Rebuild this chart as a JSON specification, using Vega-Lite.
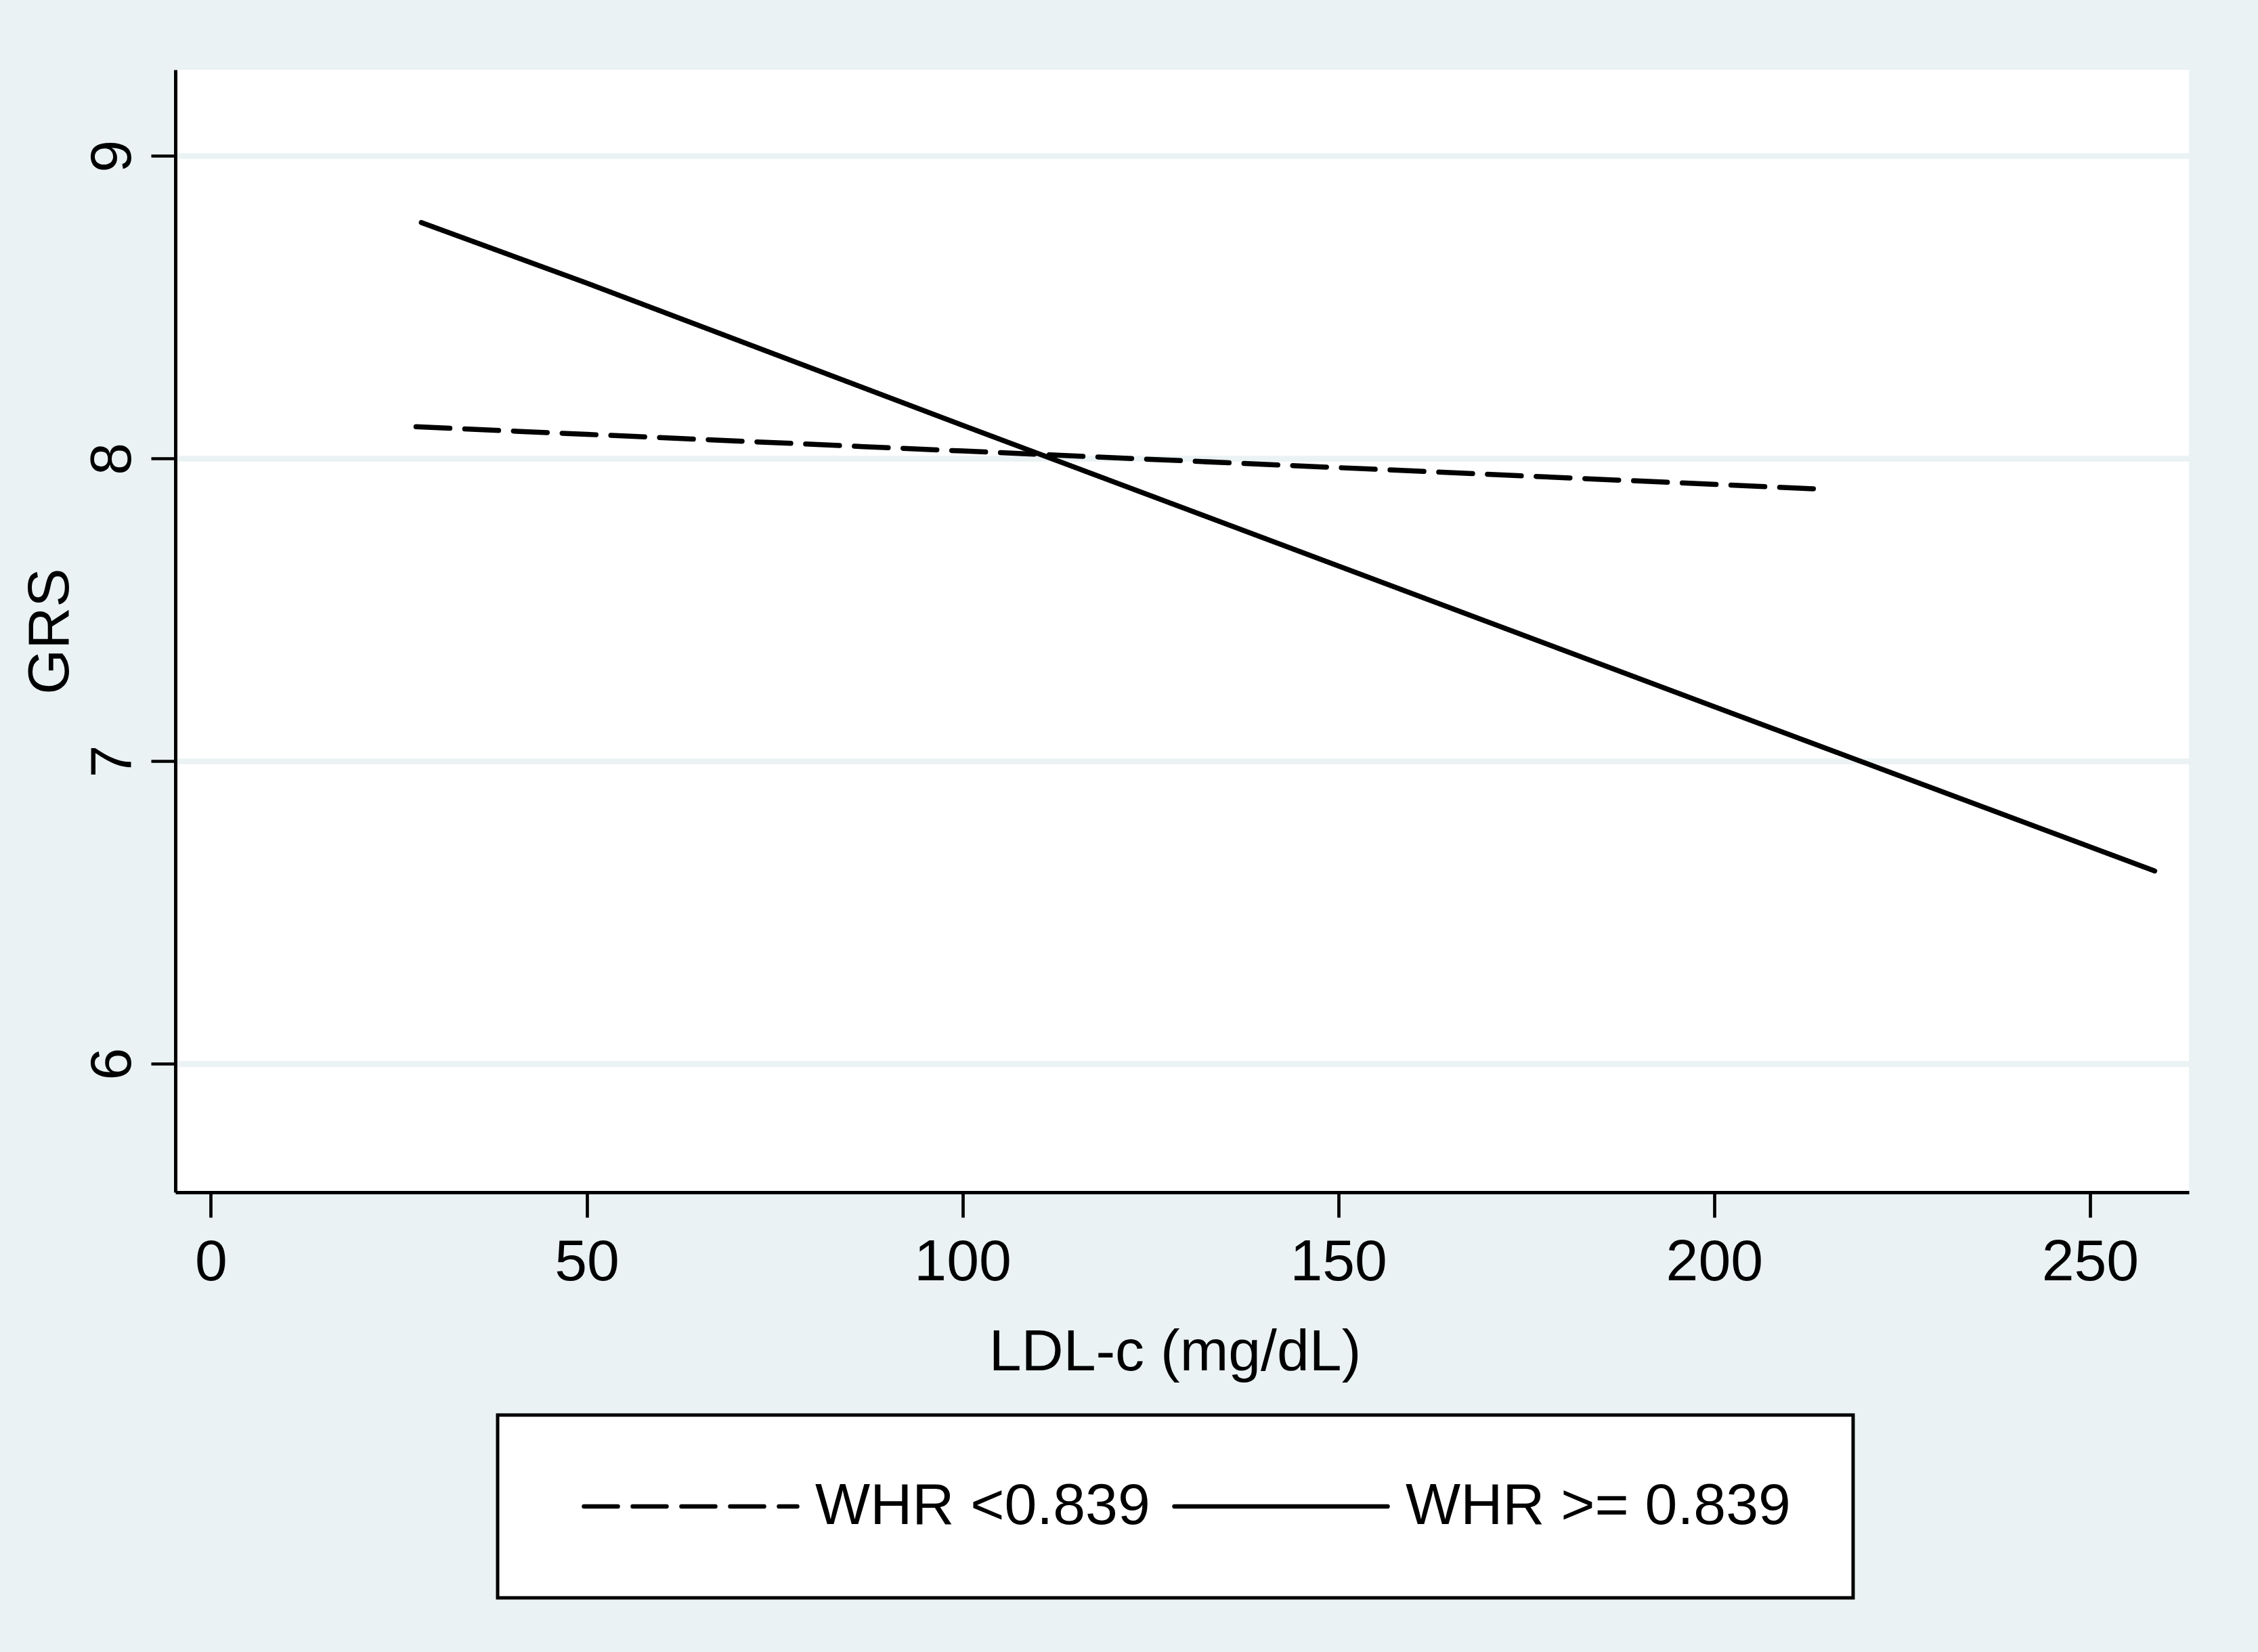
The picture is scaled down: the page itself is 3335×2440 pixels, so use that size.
{
  "$schema": "https://vega.github.io/schema/vega-lite/v6.json",
  "width": 2974,
  "height": 1658,
  "autosize": {"type": "none"},
  "padding": {"left": 259, "top": 103, "right": 102, "bottom": 679},
  "background": "#eaf2f3",
  "config": {
    "view": {"fill": "white", "stroke": null},
    "font": "Liberation Sans"
  },
  "data": {
    "values": [
      {"ldl": 28, "grs": 8.78, "group": "WHR >= 0.839"},
      {"ldl": 50, "grs": 8.58, "group": "WHR >= 0.839"},
      {"ldl": 100, "grs": 8.11, "group": "WHR >= 0.839"},
      {"ldl": 150, "grs": 7.645, "group": "WHR >= 0.839"},
      {"ldl": 200, "grs": 7.18, "group": "WHR >= 0.839"},
      {"ldl": 258.6, "grs": 6.637, "group": "WHR >= 0.839"},
      {"ldl": 27.3, "grs": 8.105, "group": "WHR <0.839"},
      {"ldl": 50, "grs": 8.08, "group": "WHR <0.839"},
      {"ldl": 100, "grs": 8.025, "group": "WHR <0.839"},
      {"ldl": 150, "grs": 7.97, "group": "WHR <0.839"},
      {"ldl": 213.2, "grs": 7.9, "group": "WHR <0.839"}
    ]
  },
  "mark": {"type": "line", "color": "black", "strokeWidth": 7.5, "strokeCap": "round", "strokeJoin": "round"},
  "encoding": {
    "x": {
      "field": "ldl",
      "type": "quantitative",
      "scale": {"domain": [-4.72, 263.16], "nice": false, "zero": false},
      "axis": {
        "title": "LDL-c (mg/dL)",
        "values": [0, 50, 100, 150, 200, 250],
        "grid": false,
        "domainColor": "black",
        "domainWidth": 5,
        "tickColor": "black",
        "tickWidth": 4.7,
        "tickSize": 37,
        "labelFontSize": 86,
        "labelColor": "black",
        "labelPadding": 92,
        "labelBaseline": "alphabetic",
        "labelFlush": false,
        "labelOverlap": false,
        "titleFontSize": 86,
        "titleFontWeight": "normal",
        "titleColor": "black",
        "titleBaseline": "alphabetic",
        "titleAlign": "center",
        "titleX": 1476,
        "titleY": 262
      }
    },
    "y": {
      "field": "grs",
      "type": "quantitative",
      "scale": {"domain": [5.575, 9.285], "nice": false, "zero": false},
      "axis": {
        "title": "GRS",
        "values": [6, 7, 8, 9],
        "grid": true,
        "gridColor": "#eaf2f3",
        "gridWidth": 8.7,
        "domainColor": "black",
        "domainWidth": 5,
        "tickColor": "black",
        "tickWidth": 4.7,
        "tickSize": 36,
        "labelAngle": 270,
        "labelAlign": "center",
        "labelBaseline": "alphabetic",
        "labelPadding": 31,
        "labelFontSize": 86,
        "labelColor": "black",
        "labelFlush": false,
        "labelOverlap": false,
        "titleFontSize": 86,
        "titleFontWeight": "normal",
        "titleColor": "black",
        "titleAngle": 270,
        "titleBaseline": "alphabetic",
        "titleAlign": "center",
        "titleX": -159,
        "titleY": 829
      }
    },
    "strokeDash": {
      "field": "group",
      "type": "nominal",
      "scale": {"domain": ["WHR <0.839", "WHR >= 0.839"], "range": [[50, 22], [1, 0]]},
      "legend": {
        "orient": "none",
        "legendX": 476,
        "legendY": 1987,
        "direction": "horizontal",
        "columns": 2,
        "title": null,
        "symbolType": "M-5,0H5",
        "symbolSize": 3969,
        "symbolStrokeWidth": 6.5,
        "symbolStrokeColor": "black",
        "symbolOffset": 150,
        "labelOffset": 141,
        "labelFontSize": 86,
        "labelColor": "black",
        "labelLimit": 2000,
        "padding": 92,
        "columnPadding": -19,
        "fillColor": "white",
        "strokeColor": "black",
        "cornerRadius": 0,
        "encode": {
          "legend": {
            "update": {
              "strokeWidth": {"value": 5}
            }
          },
          "symbols": {
            "update": {
              "strokeCap": {"value": "round"},
              "strokeDash": {"signal": "datum.value === 'WHR <0.839' ? [70, 22] : [1, 0]"}
            }
          }
        }
      }
    }
  }
}
